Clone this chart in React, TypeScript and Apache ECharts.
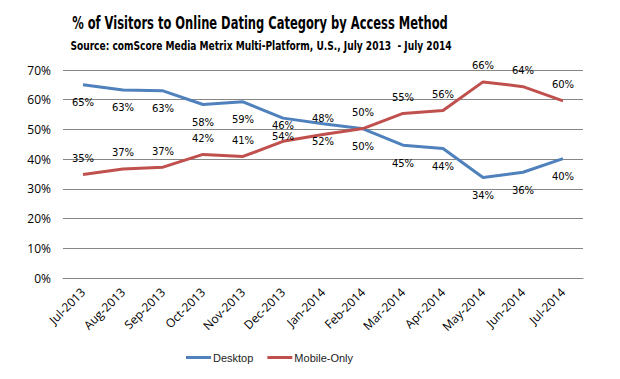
import React, { useEffect, useRef } from "react";
import * as echarts from "echarts";

const categories = ["Jul-2013","Aug-2013","Sep-2013","Oct-2013","Nov-2013","Dec-2013","Jan-2014","Feb-2014","Mar-2014","Apr-2014","May-2014","Jun-2014","Jul-2014"];
const desktop = [65.0, 63.3, 63.0, 58.4, 59.3, 53.8, 51.9, 50.2, 44.7, 43.6, 33.8, 35.6, 40.2];
const mobileOnly = [34.8, 36.7, 37.3, 41.6, 40.9, 46.0, 48.3, 50.3, 55.4, 56.4, 66.0, 64.4, 59.6];
const titleText = "% of Visitors to Online Dating Category by Access Method";
const subtitleText = "Source: comScore Media Metrix Multi-Platform, U.S., July 2013  - July 2014";

const narrow = "'DejaVu Sans Condensed', 'Open Sans', sans-serif";
const uiFont = "'Open Sans', 'Liberation Sans', sans-serif";

export default function App() {
  const ref = useRef<HTMLDivElement>(null);
  useEffect(() => {
    if (!ref.current) return;
    const chart = echarts.init(ref.current, null, { renderer: "svg" });
    const labelFmt = (p: any) => Math.round(p.value) + "%";
    chart.setOption({
      animation: false,
      backgroundColor: "#fff",
      graphic: [
        { type: "text", x: 260, y: 15, scaleX: 0.752, style: { text: titleText, textAlign: "center", fontFamily: narrow, fontWeight: "bold", fontSize: 17, fill: "#000" } },
        { type: "text", x: 261, y: 39, scaleX: 0.777, style: { text: subtitleText, textAlign: "center", fontFamily: narrow, fontWeight: "bold", fontSize: 13, fill: "#000" } },
      ],
      grid: { left: 63, right: 37, top: 70, bottom: 101, containLabel: false },
      legend: {
        bottom: 11, left: 181,
        icon: "rect", itemWidth: 25, itemHeight: 3, itemGap: 14,
        textStyle: { fontFamily: "'Liberation Sans', sans-serif", fontSize: 11, color: "#222", padding: [0, 0, 0, -3] },
        data: ["Desktop", "Mobile-Only"],
      },
      xAxis: {
        type: "category",
        data: categories,
        boundaryGap: true,
        axisLine: { show: true, lineStyle: { color: "#868686", width: 1 } },
        axisTick: { show: false },
        axisLabel: { rotate: 45, fontFamily: uiFont, fontSize: 12, color: "#000", interval: 0, margin: 12 },
      },
      yAxis: {
        type: "value", min: 0, max: 70, interval: 10,
        axisLine: { show: false }, axisTick: { show: false },
        axisLabel: { formatter: "{value}%", fontFamily: uiFont, fontSize: 12, color: "#000", margin: 12 },
        splitLine: { lineStyle: { color: "#868686", width: 1 } },
      },
      series: [
        {
          name: "Desktop", type: "line", data: desktop, showSymbol: true, symbol: "circle", symbolSize: 0,
          lineStyle: { color: "#4F81BD", width: 3 }, itemStyle: { color: "#4F81BD" },
          label: { show: true, position: "bottom", distance: 13, formatter: labelFmt, fontFamily: "'DejaVu Sans', sans-serif", fontSize: 10, color: "#000" },
        },
        {
          name: "Mobile-Only", type: "line", data: mobileOnly, showSymbol: true, symbol: "circle", symbolSize: 0,
          lineStyle: { color: "#C0504D", width: 3 }, itemStyle: { color: "#C0504D" },
          label: { show: true, position: "top", distance: 11, formatter: labelFmt, fontFamily: "'DejaVu Sans', sans-serif", fontSize: 10, color: "#000" },
        },
      ],
    });
    return () => chart.dispose();
  }, []);
  return <div ref={ref} style={{ width: 620, height: 379, position: "absolute", left: 0, top: 0 }} />;
}
